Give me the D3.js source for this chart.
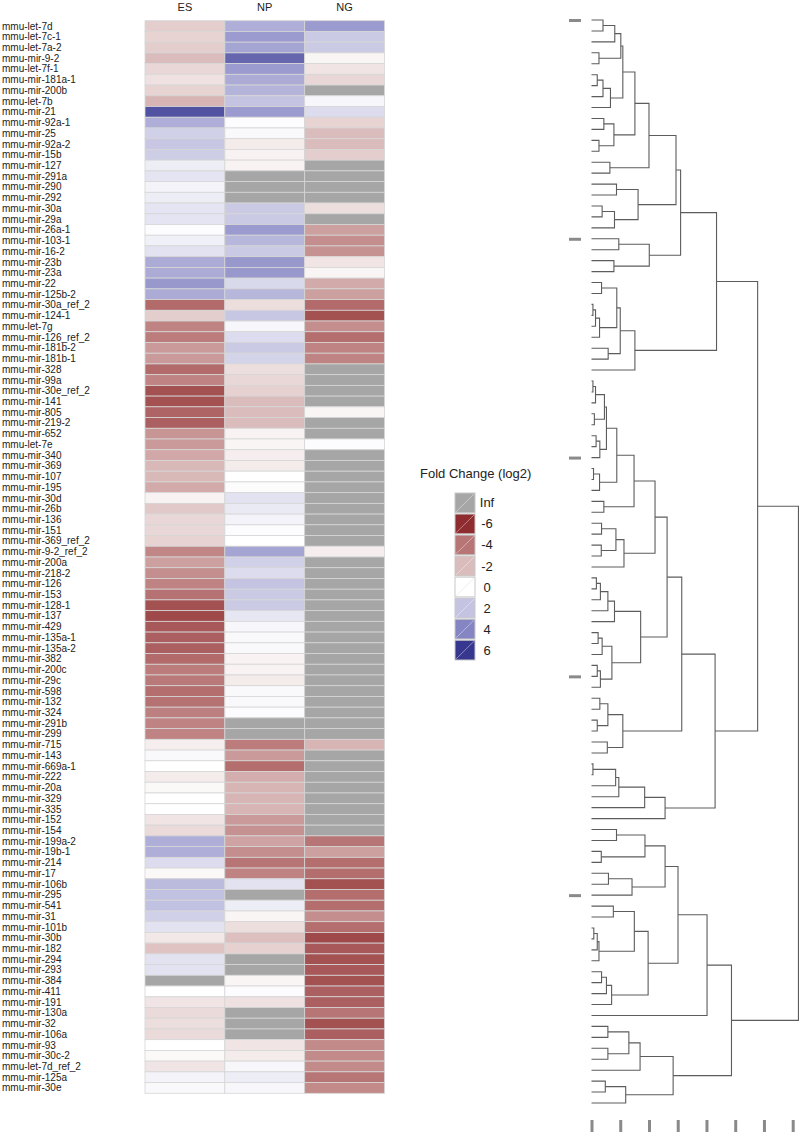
<!DOCTYPE html>
<html>
<head>
<meta charset="utf-8">
<script src="https://cdn.jsdelivr.net/npm/d3@7"></script>
<style>
  body { margin: 0; background: #fff; }
  svg { font-family: "Liberation Sans", Arial, Helvetica, sans-serif; }
</style>
</head>
<body>
<svg id="chart" width="800" height="1135"></svg>
<script>
const samples = ["ES", "NP", "NG"];

const mirnas = [
  "mmu-let-7d", "mmu-let-7c-1", "mmu-let-7a-2", "mmu-mir-9-2", "mmu-let-7f-1",
  "mmu-mir-181a-1", "mmu-mir-200b", "mmu-let-7b", "mmu-mir-21", "mmu-mir-92a-1",
  "mmu-mir-25", "mmu-mir-92a-2", "mmu-mir-15b", "mmu-mir-127", "mmu-mir-291a",
  "mmu-mir-290", "mmu-mir-292", "mmu-mir-30a", "mmu-mir-29a", "mmu-mir-26a-1",
  "mmu-mir-103-1", "mmu-mir-16-2", "mmu-mir-23b", "mmu-mir-23a", "mmu-mir-22",
  "mmu-mir-125b-2", "mmu-mir-30a_ref_2", "mmu-mir-124-1", "mmu-let-7g", "mmu-mir-126_ref_2",
  "mmu-mir-181b-2", "mmu-mir-181b-1", "mmu-mir-328", "mmu-mir-99a", "mmu-mir-30e_ref_2",
  "mmu-mir-141", "mmu-mir-805", "mmu-mir-219-2", "mmu-mir-652", "mmu-let-7e",
  "mmu-mir-340", "mmu-mir-369", "mmu-mir-107", "mmu-mir-195", "mmu-mir-30d",
  "mmu-mir-26b", "mmu-mir-136", "mmu-mir-151", "mmu-mir-369_ref_2", "mmu-mir-9-2_ref_2",
  "mmu-mir-200a", "mmu-mir-218-2", "mmu-mir-126", "mmu-mir-153", "mmu-mir-128-1",
  "mmu-mir-137", "mmu-mir-429", "mmu-mir-135a-1", "mmu-mir-135a-2", "mmu-mir-382",
  "mmu-mir-200c", "mmu-mir-29c", "mmu-mir-598", "mmu-mir-132", "mmu-mir-324",
  "mmu-mir-291b", "mmu-mir-299", "mmu-mir-715", "mmu-mir-143", "mmu-mir-669a-1",
  "mmu-mir-222", "mmu-mir-20a", "mmu-mir-329", "mmu-mir-335", "mmu-mir-152",
  "mmu-mir-154", "mmu-mir-199a-2", "mmu-mir-19b-1", "mmu-mir-214", "mmu-mir-17",
  "mmu-mir-106b", "mmu-mir-295", "mmu-mir-541", "mmu-mir-31", "mmu-mir-101b",
  "mmu-mir-30b", "mmu-mir-182", "mmu-mir-294", "mmu-mir-293", "mmu-mir-384",
  "mmu-mir-411", "mmu-mir-191", "mmu-mir-130a", "mmu-mir-32", "mmu-mir-106a",
  "mmu-mir-93", "mmu-mir-30c-2", "mmu-let-7d_ref_2", "mmu-mir-125a", "mmu-mir-30e"
];

// log2 fold change, null = Inf
const esValues = [
  -1.5, -1.3, -1.5, -2.0, -1.2, -0.9, -1.3, -2.2, 5.3, 2.7,
  1.6, 1.9, 1.7, 0.6, 0.9, 0.4, 0.6, 0.9, 0.9, 0.1,
  0.5, 1.0, 2.8, 2.8, 3.4, 2.8, -4.3, -1.5, -3.6, -3.8,
  -3.0, -3.0, -4.3, -3.6, -5.0, -5.0, -4.5, -4.6, -3.1, -3.0,
  -2.6, -2.1, -2.1, -2.5, -0.4, -1.6, -1.2, -1.2, -1.3, -3.5,
  -2.8, -3.3, -3.6, -4.1, -5.0, -5.2, -4.8, -4.6, -4.6, -4.3,
  -3.8, -3.9, -4.2, -4.1, -3.7, -3.6, -3.6, -0.5, 0.2, 0.0,
  -0.6, -0.2, 0.0, 0.0, -0.8, -1.1, 2.7, 2.7, 1.2, -0.2,
  2.3, 2.1, 2.1, 1.6, 1.0, -0.7, -1.8, 1.0, 1.0, null,
  0.0, -0.8, -1.1, -1.0, -1.1, 0.0, -0.2, -0.8, 0.4, 0.2
];
const npValues = [
  2.7, 3.3, 3.0, 4.8, 3.3, 2.8, 2.5, 2.0, 3.3, 0.1,
  0.2, -0.6, -0.4, -0.4, null, null, null, 1.8, 1.8, 3.3,
  2.4, 1.8, 3.4, 3.4, 1.3, 2.4, -1.0, 1.9, 0.3, 1.2,
  1.8, 1.5, -1.0, -1.2, -1.4, -2.0, -2.0, -2.0, -0.4, -0.3,
  -0.5, -0.6, 0.0, -0.1, 1.0, 0.7, 0.4, 0.1, 0.0, 3.0,
  1.6, 1.2, 2.0, 1.8, 1.8, 0.8, 0.3, 0.2, 0.2, -0.4,
  -0.4, -0.6, 0.2, 0.2, 0.1, null, null, -3.8, -3.0, -4.2,
  -2.4, -2.2, -2.2, -2.2, -3.0, -3.2, -2.7, -3.3, -4.0, -3.6,
  1.0, null, 0.6, -0.3, -1.0, -1.9, -1.4, null, null, -0.3,
  0.1, -0.9, null, null, null, -0.8, -0.6, 0.3, 0.6, 0.3
];
const ngValues = [
  3.3, 1.8, 1.8, -0.3, -0.8, -1.2, null, 0.3, 1.2, -1.3,
  -2.0, -2.0, -1.5, null, null, null, null, -1.0, null, -2.8,
  -3.3, -3.2, -0.8, -0.3, -2.5, -2.8, -4.3, -5.0, -3.3, -4.2,
  -3.6, -3.6, null, null, null, null, -0.3, null, null, 0.1,
  null, null, null, null, null, null, null, null, null, -0.5,
  null, null, null, null, null, null, null, null, null, null,
  null, null, null, null, null, null, null, -2.2, null, null,
  null, null, null, null, null, null, -4.0, -2.8, -4.2, -4.2,
  -5.0, -4.2, -4.2, -3.3, -4.2, -5.2, -4.8, -5.0, -4.8, -5.0,
  -4.6, -4.6, -4.0, -5.0, -4.6, -3.4, -3.4, -3.4, -4.0, -3.4
];

const legendLabels = ["Inf", "-6", "-4", "-2", "0", "2", "4", "6"];
const legendValues = [null, -6, -4, -2, 0, 2, 4, 6];

// dendrogram merges (hclust style): negative = leaf, positive = earlier merge, then height
const merges = [
  [-1, -2, 0.40], [1, -3, 0.81], [-4, -5, 0.26], [2, 3, 1.02], [-6, -7, 0.20],
  [5, -8, 0.40], [6, -9, 0.66], [4, 7, 1.09], [-10, -11, 0.43], [-12, -13, 0.26],
  [9, 10, 0.78], [8, 11, 1.51], [-14, -15, 0.64], [12, 13, 2.00], [-16, -17, 0.87],
  [-18, -19, 0.37], [16, -20, 0.80], [15, 17, 1.62], [14, 18, 2.94], [-21, -22, 0.95],
  [-23, -24, 0.78], [20, 21, 2.01], [19, 22, 3.10], [-25, -26, 0.35], [-27, -28, 0.05],
  [25, -29, 0.14], [26, -30, 0.28], [24, 27, 0.88], [-31, -32, 0.58], [28, 29, 1.00],
  [30, -33, 1.51], [23, 31, 4.35], [-34, -35, 0.05], [33, -36, 0.14], [-37, -38, 0.10],
  [34, 35, 0.45], [-39, -40, 0.16], [37, -41, 0.29], [36, 38, 0.52], [-42, -43, 0.07],
  [40, -44, 0.28], [39, 41, 0.88], [-45, -46, 0.43], [42, 43, 1.48], [-47, -48, 0.35],
  [-49, -50, 0.34], [45, 46, 0.85], [47, -51, 1.13], [44, 48, 2.21], [-52, -53, 0.17],
  [50, -54, 0.31], [51, -55, 0.57], [52, -56, 0.80], [-57, -58, 0.23], [54, -59, 0.37],
  [-60, -61, 0.20], [56, -62, 0.31], [55, 57, 0.71], [53, 58, 1.71], [49, 59, 2.63],
  [-63, -64, 0.29], [-65, -66, 0.20], [61, 62, 0.57], [-67, -68, 0.55], [63, 64, 1.09],
  [60, 65, 3.14], [-69, -70, 0.05], [67, -71, 0.84], [68, -72, 0.95], [69, -73, 1.85],
  [70, -74, 2.56], [66, 71, 4.30], [32, 72, 5.78], [-75, -76, 0.87], [-77, -78, 0.34],
  [74, 75, 1.86], [-79, -80, 0.59], [77, -81, 1.41], [76, 78, 2.56], [-82, -83, 0.76],
  [-84, -85, 0.08], [81, -86, 0.20], [82, -87, 0.26], [80, 83, 1.49], [-88, -89, 0.35],
  [85, -90, 0.52], [86, -91, 0.70], [84, 87, 1.97], [79, 88, 3.01], [89, -92, 4.02],
  [-93, -94, 0.57], [-95, -96, 0.57], [91, 92, 1.30], [93, -97, 1.69], [-98, -99, 0.48],
  [95, -100, 1.19], [94, 96, 2.84], [90, 97, 4.87], [73, 98, 7.20]
];
const heightTicks = [0, 1, 2, 3, 4, 5, 6, 7];
const leafTicks = [0, 20, 40, 60, 80];

const svg = d3.select("#chart");

// ---------- heatmap ----------
const x = d3.scaleBand().domain(samples).range([145, 384.5]);
const y = d3.scaleBand().domain(mirnas).range([20.7, 1093.3]);

const color = d3.scaleLinear()
  .domain([-6, -4, -2, 0, 2, 4, 6])
  .range(["#8f2c2f", "#b87575", "#dbbcbc", "#ffffff", "#c4c4e2", "#8585c4", "#37378f"])
  .clamp(true);
const infColor = "#a6a6a6";

const cells = [];
const series = [esValues, npValues, ngValues];
mirnas.forEach((m, i) => {
  samples.forEach((s, j) => cells.push({ mirna: m, sample: s, value: series[j][i] }));
});

svg.append("g")
  .selectAll("rect")
  .data(cells)
  .join("rect")
  .attr("x", d => x(d.sample))
  .attr("y", d => y(d.mirna))
  .attr("width", x.bandwidth())
  .attr("height", y.bandwidth())
  .attr("fill", d => d.value == null ? infColor : color(d.value))
  .attr("stroke", "#d6d6d6")
  .attr("stroke-width", 0.8);

svg.append("g")
  .selectAll("text")
  .data(mirnas)
  .join("text")
  .attr("x", 2)
  .attr("y", d => y(d) + y.bandwidth() / 2)
  .attr("dy", "0.35em")
  .attr("font-size", 10)
  .attr("fill", "#222")
  .text(d => d);

svg.append("g")
  .selectAll("text")
  .data(samples)
  .join("text")
  .attr("x", d => x(d) + x.bandwidth() / 2)
  .attr("y", 11)
  .attr("text-anchor", "middle")
  .attr("font-size", 11)
  .attr("fill", "#222")
  .text(d => d);

// ---------- legend ----------
const legend = svg.append("g").attr("transform", "translate(455,493)");
legend.append("text")
  .attr("x", -35)
  .attr("y", -15)
  .attr("font-size", 13)
  .attr("fill", "#222")
  .text("Fold Change (log2)");

const ly = d3.scaleBand().domain(legendLabels).range([0, 167]).paddingInner(0.06);
const keys = legend.selectAll("g.key")
  .data(legendLabels)
  .join("g")
  .attr("class", "key")
  .attr("transform", d => `translate(0,${ly(d)})`);

keys.append("rect")
  .attr("width", 20)
  .attr("height", ly.bandwidth())
  .attr("fill", (d, i) => legendValues[i] == null ? infColor : color(legendValues[i]))
  .attr("stroke", "#c8c8c8")
  .attr("stroke-width", 1);
keys.append("line")
  .attr("x1", 1).attr("y1", ly.bandwidth() - 1)
  .attr("x2", 19).attr("y2", 1)
  .attr("stroke", (d, i) => legendValues[i] === 0 ? "#d0d0d0" : "#fff")
  .attr("stroke-opacity", 0.5)
  .attr("stroke-width", 0.8);
keys.append("text")
  .attr("x", 32)
  .attr("y", ly.bandwidth() / 2)
  .attr("dy", "0.35em")
  .attr("text-anchor", "middle")
  .attr("font-size", 13)
  .attr("fill", "#222")
  .text(d => d);

// ---------- dendrogram ----------
function build(k) {
  if (k < 0) return { leaf: -k - 1, height: 0 };
  const [a, b, h] = merges[k - 1];
  return { height: h, children: [build(a), build(b)] };
}
const root = d3.hierarchy(build(merges.length));

const hx = d3.scaleLinear().domain([0, 7]).range([591.5, 792.7]);
const ly2 = d3.scaleLinear().domain([0, 99]).range([20, 1103]);

// eachAfter visits leaves top to bottom, so the counter gives the leaf row
let order = 0;
root.eachAfter(n => {
  if (!n.children) n.yPos = ly2(order++);
  else n.yPos = d3.mean(n.children, c => c.yPos);
});

const dendro = svg.append("g")
  .attr("fill", "none")
  .attr("stroke", "#5c5c5c")
  .attr("stroke-width", 1.1);

const links = root.descendants().filter(n => n.children);
dendro.selectAll("path")
  .data(links)
  .join("path")
  .attr("d", n => {
    const [c1, c2] = n.children;
    const xn = hx(n.data.height);
    return `M${hx(c1.data.height)},${c1.yPos}H${xn}V${c2.yPos}H${hx(c2.data.height)}`;
  });

// axes with ticks only
const leftAxis = svg.append("g")
  .attr("transform", "translate(581,0)")
  .call(d3.axisLeft(ly2).tickValues(leafTicks).tickSize(12).tickFormat(""));
const bottomAxis = svg.append("g")
  .attr("transform", "translate(0,1120)")
  .call(d3.axisBottom(hx).tickValues(heightTicks).tickSize(12).tickFormat(""));

[leftAxis, bottomAxis].forEach(a => {
  a.select(".domain").remove();
  a.selectAll(".tick line").attr("stroke", "#8a8a8a").attr("stroke-width", 3);
});
</script>
</body>
</html>
